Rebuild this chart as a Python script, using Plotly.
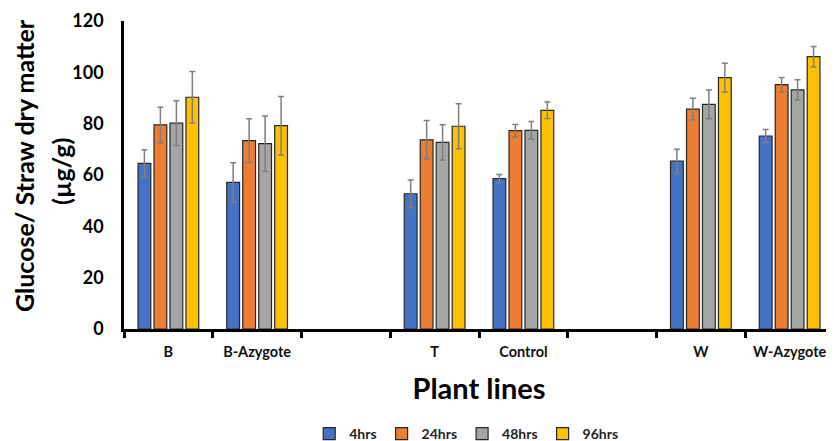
import plotly.graph_objects as go

categories = ["B", "B-Azygote", " ", "T", "Control", "  ", "W", "W-Azygote"]
series_names = ["4hrs", "24hrs", "48hrs", "96hrs"]
values = {
    "4hrs":  [64.5, 57.1, None, 52.7, 58.6, None, 65.4, 75.2],
    "24hrs": [79.5, 73.4, None, 73.7, 77.3, None, 85.7, 95.2],
    "48hrs": [80.2, 72.2, None, 72.7, 77.4, None, 87.5, 93.2],
    "96hrs": [90.3, 79.2, None, 79.0, 85.2, None, 97.9, 106.1],
}
errors = {
    "4hrs":  [5.3, 7.7, None, 5.4, 1.6, None, 4.6, 2.5],
    "24hrs": [6.9, 8.5, None, 7.5, 2.4, None, 4.2, 2.8],
    "48hrs": [8.7, 10.8, None, 6.9, 3.4, None, 5.6, 3.9],
    "96hrs": [10.0, 11.4, None, 8.8, 3.2, None, 5.6, 4.0],
}
colors = {"4hrs": "#4472C4", "24hrs": "#ED7D31", "48hrs": "#A5A5A5", "96hrs": "#FFC000"}
y_title_lines = ["Glucose/ Straw dry matter", "(µg/g)"]

FONT = "Lato"

fig = go.Figure()
for s in series_names:
    fig.add_trace(go.Bar(
        name=s, x=categories, y=values[s],
        marker=dict(color=colors[s], line=dict(color="#262626", width=1.2)),
        error_y=dict(type="data", array=errors[s], visible=True,
                     color="#7F7F7F", thickness=1.5, width=3),
    ))

# page body has an 8px margin, so the figure is sized to fit inside the window
fig.update_layout(
    width=826, height=433,
    barmode="group", bargap=0.28, bargroupgap=0.2,
    plot_bgcolor="white", paper_bgcolor="white",
    margin=dict(l=116, r=0, t=13, b=112, autoexpand=False),
    font=dict(family=FONT, color="black"),
    showlegend=True,
    legend=dict(orientation="h", x=0.482, xanchor="center", y=-0.341, yanchor="middle",
                font=dict(family=FONT, size=14, color="#222222", weight="bold"),
                itemwidth=30, traceorder="normal", bgcolor="rgba(0,0,0,0)"),
)
fig.update_xaxes(
    type="category", categoryorder="array", categoryarray=categories,
    showline=True, linecolor="black", linewidth=2.5,
    ticks="outside", tickson="boundaries", ticklen=6, tickwidth=2.5, tickcolor="black",
    tickangle=0, ticklabelstandoff=8,
    tickfont=dict(family=FONT, size=14.5, color="#111111", weight="bold"),
    showgrid=False, zeroline=False,
    title=dict(text="Plant lines", font=dict(family=FONT, size=29, color="black", weight="bold"),
               standoff=20),
)
fig.update_yaxes(
    range=[0, 120], dtick=20,
    showline=True, linecolor="black", linewidth=2.5,
    ticks="", showgrid=False, zeroline=False,
    tickfont=dict(family=FONT, size=18, color="black", weight="bold"),
    ticklabelstandoff=14,
)
fig.add_annotation(text=y_title_lines[0], textangle=-90, showarrow=False,
                   xref="paper", yref="paper", x=-0.1408, y=0.529,
                   xanchor="center", yanchor="middle",
                   font=dict(family=FONT, size=25, color="black", weight="bold"))
fig.add_annotation(text=y_title_lines[1], textangle=-90, showarrow=False,
                   xref="paper", yref="paper", x=-0.0887, y=0.51,
                   xanchor="center", yanchor="middle",
                   font=dict(family=FONT, size=25, color="black", weight="bold"))

fig.write_html("out.html")
